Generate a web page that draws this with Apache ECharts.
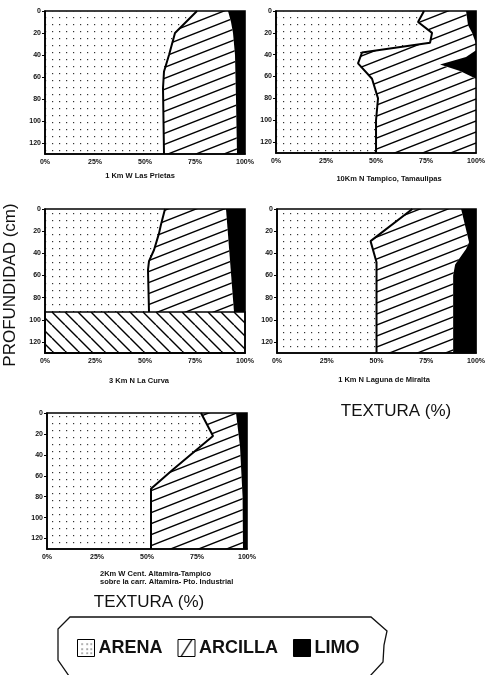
<!DOCTYPE html>
<html><head><meta charset="utf-8">
<script src="https://cdn.jsdelivr.net/npm/echarts@6/dist/echarts.min.js"></script>
<style>html,body{margin:0;padding:0;background:#fff}#c{width:488px;height:675px}</style>
</head><body><div id="c"></div>
<script>
// ---------------- DATA ----------------
const xTicks = [0, 25, 50, 75, 100];          // TEXTURA (%)
const yTicks = [0, 20, 40, 60, 80, 100, 120]; // PROFUNDIDAD (cm)
const depthMax = 130;
const layerNames = ['ARENA', 'ARCILLA', 'LIMO'];
const panelNames = [
  '1 Km W Las Prietas',
  '10Km N Tampico, Tamaulipas',
  '3 Km N La Curva',
  '1 Km N Laguna de Miralta',
  '2Km W Cent. Altamira-Tampico\nsobre la carr. Altamira- Pto. Industrial'
];

// Panel 1 - boundary ARENA|ARCILLA (%) and ARCILLA|LIMO (%) vs depth (cm)
const p1ArenaDepth = [0, 20, 40, 55, 70, 130];
const p1ArenaPct   = [76, 65, 62, 59.5, 59, 59.5];
const p1LimoDepth  = [0, 10, 20, 40, 80, 130];
const p1LimoPct    = [91.5, 93, 94, 95, 95.5, 96];
// Panel 2
const p2ArenaDepth = [0, 10, 20, 29, 38, 48, 62, 80, 100, 130];
const p2ArenaPct   = [74, 71, 78, 77, 43, 41, 48, 51, 50, 50];
const p2LimoDepth  = [0, 13, 20, 30, 36, 42, 49, 55, 62, 130];
const p2LimoPct    = [95, 96, 98, 100, 100, 95, 82, 92, 100, 100];
// Panel 3
const p3ArenaDepth = [0, 14, 22, 37, 47, 55, 93];
const p3ArenaPct   = [60, 58, 57, 54.5, 52, 51.5, 52];
const p3LimoDepth  = [0, 93];
const p3LimoPct    = [90.5, 94.5];
const p3ClayBand   = [93, 130];   // depth range that is 100% ARCILLA
// Panel 4
const p4ArenaDepth = [0, 29, 48, 130];
const p4ArenaPct   = [68, 47, 50, 50];
const p4LimoDepth  = [0, 30, 36, 50, 60, 130];
const p4LimoPct    = [92.5, 96.5, 95, 89.5, 88.5, 88.5];
// Panel 5
const p5ArenaDepth = [0, 22, 54, 72.5, 130];
const p5ArenaPct   = [77, 83, 63, 52, 52];
const p5LimoDepth  = [0, 32, 80, 130];
const p5LimoPct    = [94.5, 96.5, 97.8, 98];

// ---------------- PATTERNS ----------------
function cv(w, h) { const c = document.createElement('canvas'); c.width = w; c.height = h; return c; }
function dotPattern() {
  const c = cv(7, 7), g = c.getContext('2d');
  g.fillStyle = '#333'; g.fillRect(3, 3, 1.2, 1.2);
  return { image: c, repeat: 'repeat' };
}
function hatchPattern(w, h, up, lw) {
  const c = cv(w, h), g = c.getContext('2d');
  g.strokeStyle = '#000'; g.lineWidth = lw; g.beginPath();
  for (let k = -1; k <= 1; k++) {
    if (up) { g.moveTo(0, h + k * h); g.lineTo(w, k * h); }
    else { g.moveTo(0, k * h); g.lineTo(w, h + k * h); }
  }
  g.stroke();
  return { image: c, repeat: 'repeat' };
}
function legendHatch() {
  const c = cv(17, 17), g = c.getContext('2d');
  g.fillStyle = '#fff'; g.fillRect(0, 0, 17, 17);
  g.strokeStyle = '#000'; g.lineWidth = 1.3; g.beginPath();
  g.moveTo(3, 17); g.lineTo(14, 0); g.stroke();
  return { image: c, repeat: 'repeat' };
}
function legendDots() {
  const c = cv(17, 17), g = c.getContext('2d');
  g.fillStyle = '#fff'; g.fillRect(0, 0, 17, 17);
  g.fillStyle = '#333';
  [[4,4],[9,4],[13,4],[4,9],[9,9],[13,9],[4,13],[9,13],[13,13]].forEach(p => g.fillRect(p[0], p[1], 1.2, 1.2));
  return { image: c, repeat: 'repeat' };
}
const FILL_ARENA = dotPattern();
const FILL_ARCILLA = hatchPattern(28, 11, true, 1.4);
const FILL_BAND = hatchPattern(13, 13, false, 1.4);
const FILL_LIMO = '#000';

// ---------------- BUILD ----------------
const panels = [
  { ad: p1ArenaDepth, ap: p1ArenaPct, ld: p1LimoDepth, lp: p1LimoPct },
  { ad: p2ArenaDepth, ap: p2ArenaPct, ld: p2LimoDepth, lp: p2LimoPct },
  { ad: p3ArenaDepth, ap: p3ArenaPct, ld: p3LimoDepth, lp: p3LimoPct, band: p3ClayBand },
  { ad: p4ArenaDepth, ap: p4ArenaPct, ld: p4LimoDepth, lp: p4LimoPct },
  { ad: p5ArenaDepth, ap: p5ArenaPct, ld: p5LimoDepth, lp: p5LimoPct }
];
const grids = [
  { left: 45, top: 11, width: 200, height: 143 },
  { left: 276, top: 11, width: 201, height: 142 },
  { left: 45, top: 209, width: 200, height: 144 },
  { left: 277, top: 209, width: 202, height: 144 },
  { left: 47, top: 413, width: 200, height: 136 }
];
const FONT = '"Liberation Sans", Arial, sans-serif';

function polySeries(name, idx, pts, fill, stroke) {
  return {
    type: 'custom', name: name, xAxisIndex: idx, yAxisIndex: idx, silent: true, z: 2,
    data: [[0, 0]],
    renderItem: function (params, api) {
      return {
        type: 'polygon',
        shape: { points: pts.map(p => api.coord(p)) },
        style: { fill: fill, stroke: stroke || null, lineWidth: stroke ? 1.5 : 0 }
      };
    }
  };
}

const series = [];
const xAxes = [], yAxes = [];
panels.forEach((P, i) => {
  const arena = P.ad.map((d, k) => [P.ap[k], d]);
  const limo = P.ld.map((d, k) => [P.lp[k], d]);
  const top = P.ad[0], bot = P.ad[P.ad.length - 1];
  series.push(polySeries('ARENA', i, [[0, top]].concat(arena, [[0, bot]]), FILL_ARENA));
  series.push(polySeries('ARCILLA', i, arena.concat(limo.slice().reverse()), FILL_ARCILLA));
  series.push(polySeries('LIMO', i, limo.concat([[100, bot], [100, top]]), FILL_LIMO));
  if (P.band) {
    series.push(polySeries('ARCILLA', i,
      [[0, P.band[0]], [100, P.band[0]], [100, P.band[1]], [0, P.band[1]]], FILL_BAND, '#000'));
  }
  series.push({
    type: 'line', name: 'limite', xAxisIndex: i, yAxisIndex: i, silent: true, z: 3,
    data: arena, showSymbol: false, symbol: 'none',
    lineStyle: { color: '#000', width: 2 }
  });
  xAxes.push({
    gridIndex: i, type: 'value', min: xTicks[0], max: xTicks[xTicks.length - 1], interval: 25, z: 5,
    axisLine: { show: true, onZero: false, lineStyle: { color: '#000', width: 1.6 } },
    axisTick: { show: false }, splitLine: { show: false },
    axisLabel: { formatter: '{value}%', fontSize: 7, fontWeight: 'bold', color: '#111', margin: 5, fontFamily: FONT }
  });
  yAxes.push({
    gridIndex: i, type: 'value', inverse: true, min: yTicks[0], max: depthMax, interval: 20, z: 5,
    axisLine: { show: true, onZero: false, lineStyle: { color: '#000', width: 1.6 } },
    axisTick: { show: true, length: 3, lineStyle: { color: '#000', width: 1 } },
    splitLine: { show: false },
    axisLabel: { showMaxLabel: false, fontSize: 7, fontWeight: 'bold', color: '#111', margin: 4, fontFamily: FONT }
  });
});

const titlePos = [[140, 176, 'center'], [389, 179, 'center'], [139, 381, 'center'], [384, 380, 'center'], [100, 578, 'left']];
const graphic = panelNames.map((t, i) => ({
  type: 'text', x: titlePos[i][0], y: titlePos[i][1], silent: true,
  style: { text: t, align: titlePos[i][2], verticalAlign: 'middle', fill: '#111',
           font: 'bold 7.5px ' + FONT, lineHeight: 8 }
}));
graphic.push({
  type: 'text', x: 10, y: 285, rotation: Math.PI / 2, silent: true,
  style: { text: 'PROFUNDIDAD (cm)', align: 'center', verticalAlign: 'middle', fill: '#111', font: '17px ' + FONT }
});
graphic.push({
  type: 'text', x: 396, y: 411, silent: true,
  style: { text: 'TEXTURA (%)', align: 'center', verticalAlign: 'middle', fill: '#111', font: '17px ' + FONT }
});
graphic.push({
  type: 'text', x: 149, y: 602, silent: true,
  style: { text: 'TEXTURA (%)', align: 'center', verticalAlign: 'middle', fill: '#111', font: '17px ' + FONT }
});
graphic.push({
  type: 'polyline', silent: true,
  shape: { points: [[69, 676], [58, 660], [58, 629], [70, 617], [371, 617], [387, 631], [384, 645], [383, 662], [370, 676]] },
  style: { stroke: '#111', lineWidth: 1.3, fill: null }
});

const chart = echarts.init(document.getElementById('c'), null, { renderer: 'canvas' });
chart.setOption({
  animation: false,
  backgroundColor: '#fff',
  grid: grids.map(g => Object.assign({ show: true, borderColor: '#000', borderWidth: 1.6, backgroundColor: 'transparent', z: 5 }, g)),
  xAxis: xAxes,
  yAxis: yAxes,
  legend: {
    left: 77, top: 639, padding: 0, itemGap: 15, itemWidth: 17, itemHeight: 17, icon: 'rect',
    selectedMode: false,
    textStyle: { fontSize: 18, fontWeight: 'bold', color: '#111', fontFamily: FONT, padding: [0, 0, 0, -1] },
    data: [
      { name: layerNames[0], itemStyle: { color: legendDots(), borderColor: '#000', borderWidth: 1 } },
      { name: layerNames[1], itemStyle: { color: legendHatch(), borderColor: '#000', borderWidth: 1 } },
      { name: layerNames[2], itemStyle: { color: FILL_LIMO, borderColor: '#000', borderWidth: 1 } }
    ]
  },
  graphic: graphic,
  series: series
});
</script>
</body></html>
